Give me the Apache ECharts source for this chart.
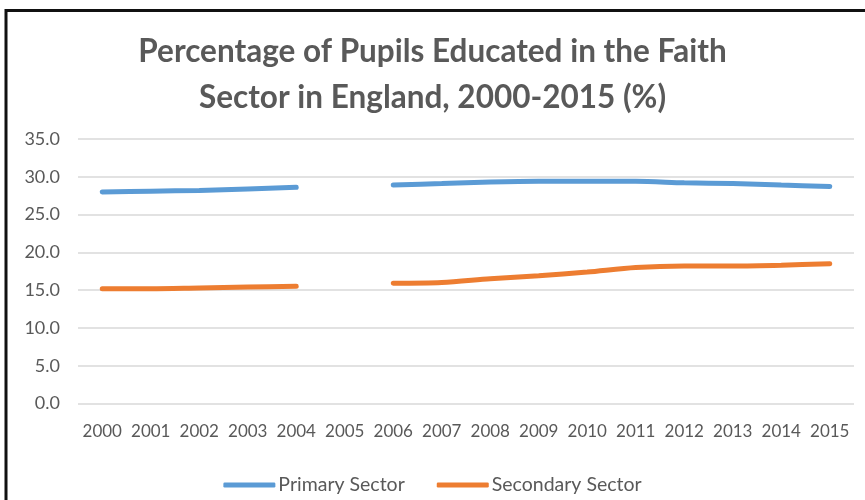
<!DOCTYPE html>
<html>
<head>
<meta charset="utf-8">
<script src="https://cdn.jsdelivr.net/npm/echarts@6/dist/echarts.min.js"></script>
<style>
html,body{margin:0;padding:0;background:#fff;}
#chart{width:865px;height:500px;}
</style>
</head>
<body>
<div id="chart"></div>
<script>
const titleText = 'Percentage of Pupils Educated in the Faith\nSector in England, 2000-2015 (%)';
const years = ['2000','2001','2002','2003','2004','2005','2006','2007','2008','2009','2010','2011','2012','2013','2014','2015'];
const primarySector = [28.0, 28.1, 28.2, 28.4, 28.6, null, 28.9, 29.1, 29.3, 29.4, 29.4, 29.4, 29.2, 29.1, 28.9, 28.7];
const secondarySector = [15.2, 15.2, 15.3, 15.4, 15.5, null, 15.9, 16.0, 16.5, 16.9, 17.4, 18.0, 18.2, 18.2, 18.3, 18.5];
const seriesNames = ['Primary Sector', 'Secondary Sector'];

const chart = echarts.init(document.getElementById('chart'));
const fontFam = 'Lato, "Noto Sans", sans-serif';
chart.setOption({
  animation: false,
  backgroundColor: '#ffffff',
  title: {
    text: titleText,
    left: 'center',
    top: 24,
    textStyle: {fontFamily: fontFam, fontSize: 31.5, fontWeight: 'bold', color: '#595959', lineHeight: 46}
  },
  graphic: [
    {type: 'polyline', shape: {points: [[6, 500], [6, 10.5], [865, 10.5]]}, style: {stroke: '#111', lineWidth: 3, fill: null}, z: 100}
  ],
  legend: {
    data: seriesNames,
    top: 470,
    left: 'center',
    itemWidth: 52,
    itemHeight: 5,
    itemGap: 32,
    icon: 'roundRect',
    textStyle: {fontFamily: fontFam, fontSize: 19.5, color: '#595959', padding: [0,0,0,-2]}
  },
  grid: {left: 78, right: 11, top: 139, bottom: 96.5},
  xAxis: {
    type: 'category',
    data: years,
    boundaryGap: true,
    axisLine: {show: false},
    axisTick: {show: false},
    axisLabel: {fontFamily: fontFam, fontSize: 17, color: '#595959', margin: 20, interval: 0}
  },
  yAxis: {
    type: 'value',
    min: 0, max: 35, interval: 5,
    axisLine: {show: false},
    axisTick: {show: false},
    splitLine: {lineStyle: {color: '#d9d9d9', width: 1.5}},
    axisLabel: {fontFamily: fontFam, fontSize: 18, color: '#595959', margin: 18, formatter: v => v.toFixed(1)}
  },
  series: [
    {name: seriesNames[0], type: 'line', data: primarySector, smooth: 0.3, connectNulls: false, showSymbol: false, symbol: 'none',
     lineStyle: {color: '#5B9BD5', width: 5, cap: 'round'}, itemStyle: {color: '#5B9BD5'}},
    {name: seriesNames[1], type: 'line', data: secondarySector, smooth: 0.3, connectNulls: false, showSymbol: false, symbol: 'none',
     lineStyle: {color: '#ED7D31', width: 5, cap: 'round'}, itemStyle: {color: '#ED7D31'}}
  ]
});
</script>
</body>
</html>
